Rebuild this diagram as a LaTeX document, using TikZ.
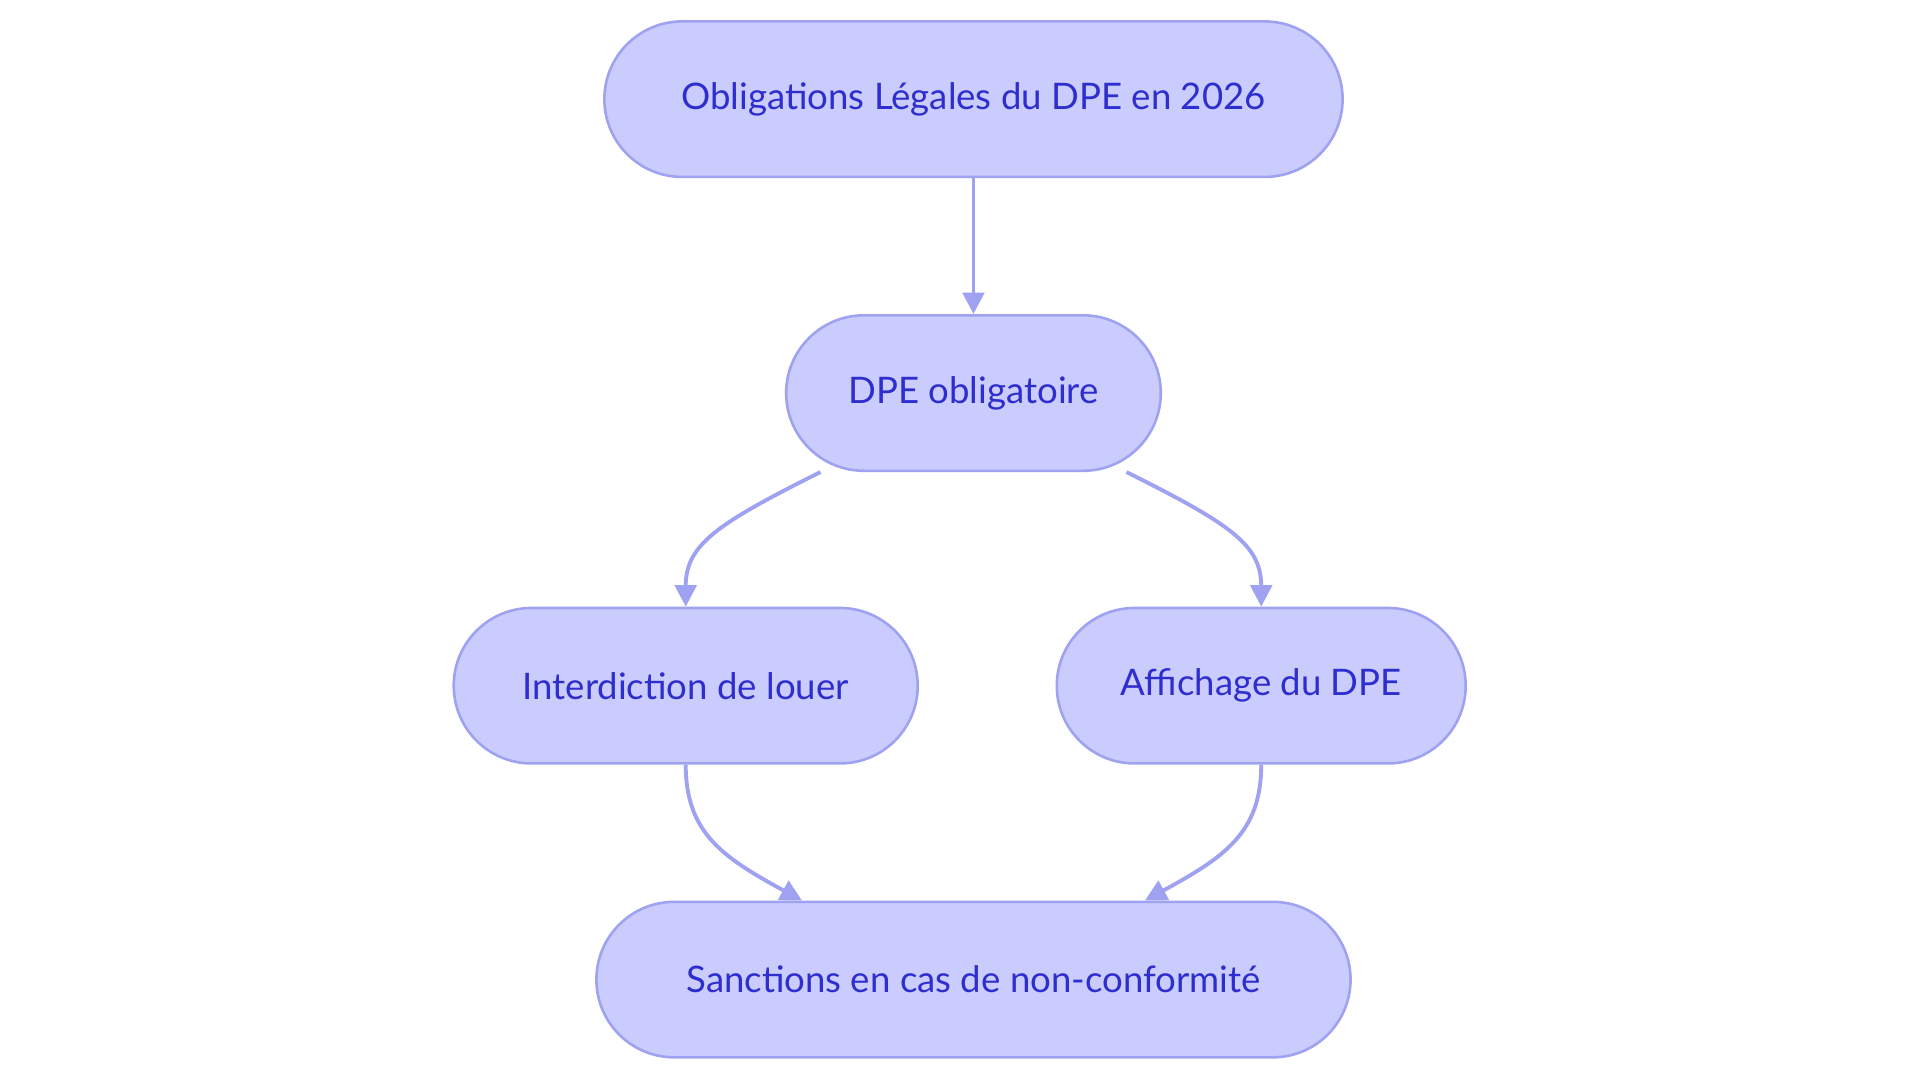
\documentclass[tikz,border=0pt]{standalone}
\usepackage{fontspec}
\setmainfont{Lato}
\usetikzlibrary{positioning, arrows.meta, calc}
\definecolor{boxfill}{HTML}{CACCFD}
\definecolor{boxline}{HTML}{9FA2F0}
\definecolor{boxtext}{HTML}{2E2ECF}
\tikzset{
  stage/.style={
    rectangle,
    rounded corners=1.27cm,
    draw=boxline, line width=1.2pt,
    fill=boxfill,
    text=boxtext,
    minimum height=2.54cm,
    font=\fontsize{17}{20}\selectfont,
    text centered
  },
  arrow/.style={
    draw=boxline,
    line width=1.8pt,
    -{Triangle[length=10pt,width=10pt]}
  }
}
\begin{document}
\begin{tikzpicture}[x=0.02cm, y=-0.02cm]
\useasboundingbox (0,0) rectangle (1568,884);
% nodes
\node[stage, minimum width=12.06cm] (law) at (795,81) {Obligations Légales du DPE en 2026};
\node[stage, minimum width=6.12cm] (dpe) at (795,321) {DPE obligatoire};
\node[stage, minimum width=7.58cm] (ban) at (560,560) {Interdiction de louer};
\node[stage, minimum width=6.68cm] (show) at (1030,560) {Affichage du DPE};
\node[stage, minimum width=12.32cm] (fine) at (795,800) {Sanctions en cas de non-conformité};

% edges
\draw [arrow] (law.south) -- (dpe.north);
\draw [arrow] ($(dpe.south)+(-125,0)$) .. controls (585,428) and (560,445) .. (ban.north);
\draw [arrow] ($(dpe.south)+(125,0)$) .. controls (1005,428) and (1030,445) .. (show.north);
\draw [arrow] (ban.south) .. controls (560,680) and (590,700) .. ($(fine.north)+(-140,0)$);
\draw [arrow] (show.south) .. controls (1030,680) and (1000,700) .. ($(fine.north)+(140,0)$);
\end{tikzpicture}
\end{document}
